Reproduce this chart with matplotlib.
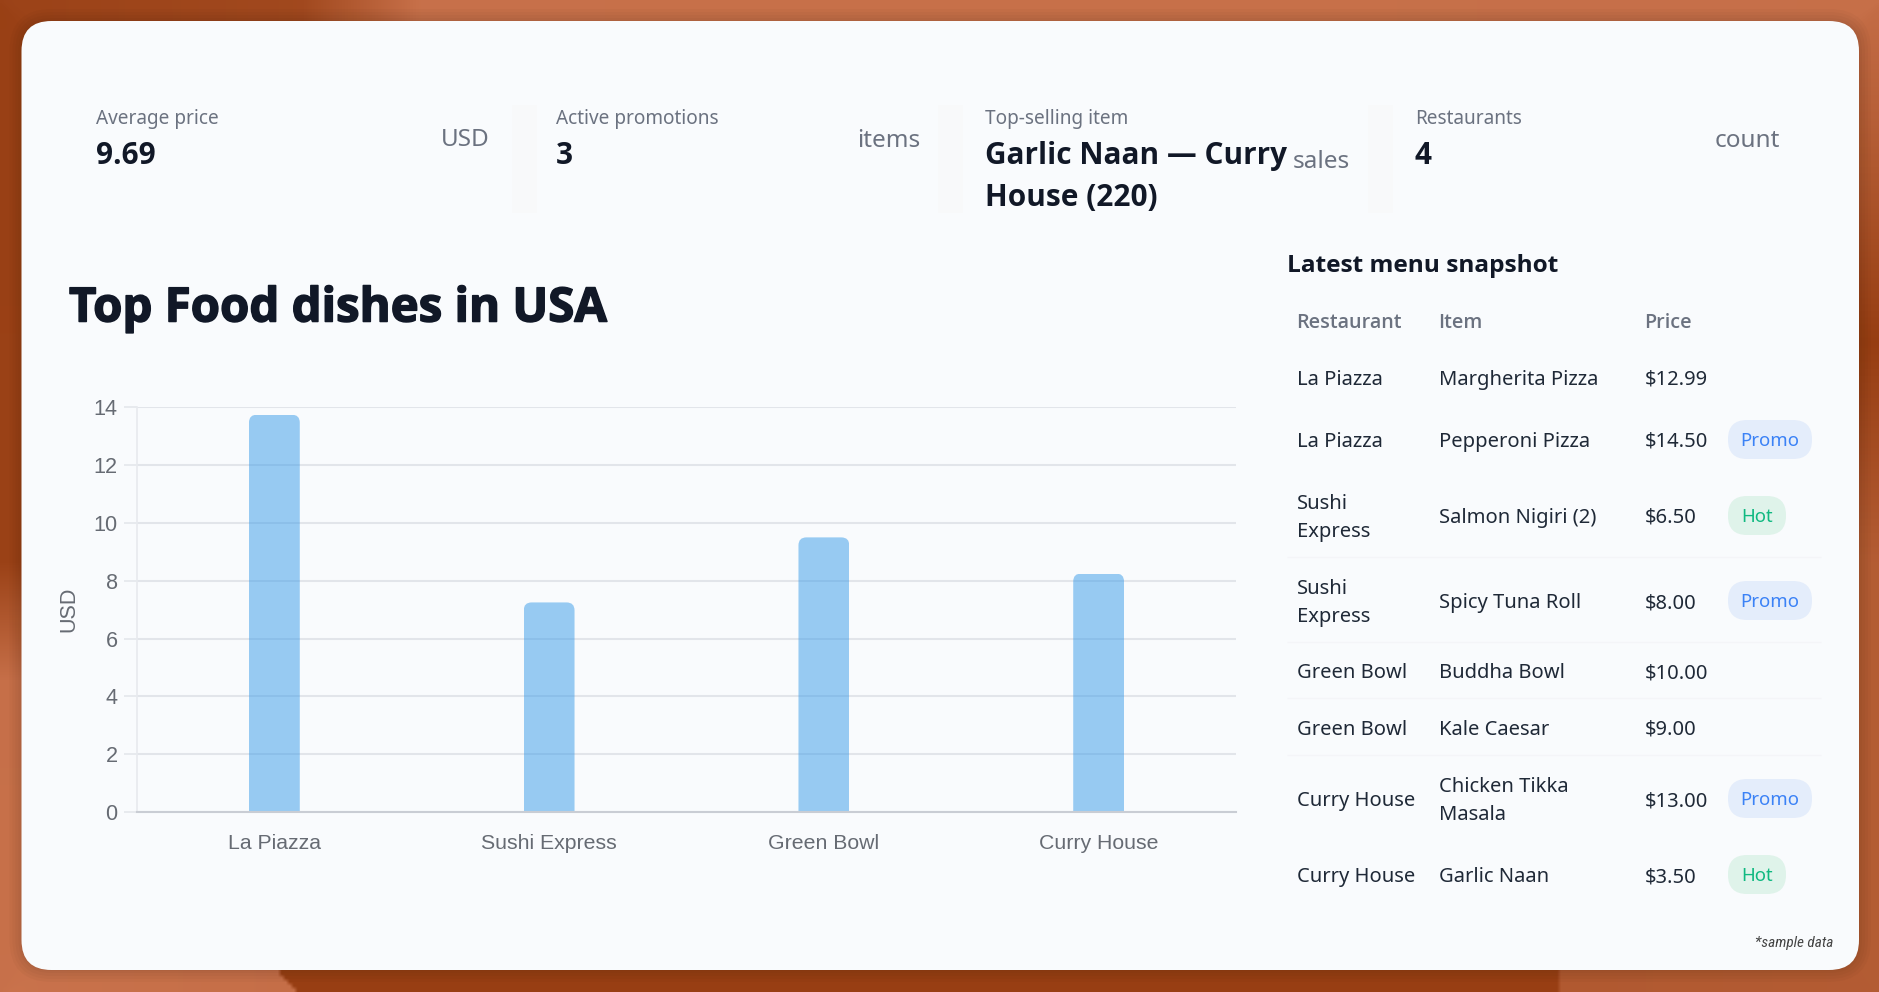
import numpy as np
import matplotlib
matplotlib.use("Agg")
import matplotlib.pyplot as plt
import matplotlib.patheffects as pe
from matplotlib import font_manager as fm
from matplotlib.patches import FancyBboxPatch, PathPatch, Rectangle
from matplotlib.path import Path

W, H = 1879, 992

# ---- data ----
restaurants = ["La Piazza", "Sushi Express", "Green Bowl", "Curry House"]
avg_price = [13.745, 7.25, 9.5, 8.25]
y_ticks = [0, 2, 4, 6, 8, 10, 12, 14]
kpi_labels = ["Average price", "Active promotions", "Top-selling item", "Restaurants"]
kpi_values = ["9.69", "3", "Garlic Naan — Curry\nHouse (220)", "4"]
kpi_units = ["USD", "items", "sales", "count"]
table_headers = ["Restaurant", "Item", "Price"]
table_rest = ["La Piazza", "La Piazza", "Sushi\nExpress", "Sushi\nExpress",
              "Green Bowl", "Green Bowl", "Curry House", "Curry House"]
table_item = ["Margherita Pizza", "Pepperoni Pizza", "Salmon Nigiri (2)", "Spicy Tuna Roll",
              "Buddha Bowl", "Kale Caesar", "Chicken Tikka\nMasala", "Garlic Naan"]
table_price = ["$12.99", "$14.50", "$6.50", "$8.00", "$10.00", "$9.00", "$13.00", "$3.50"]
table_tag = ["", "Promo", "Hot", "Promo", "", "", "Promo", "Hot"]

# ---- layout (pixels) ----
kpi_x = [96, 556, 985, 1415]
unit_right = [490, 920, 1350, 1780]
unit_y = [140, 141, 162, 141]
sep_x = [512, 938, 1368]
row_y = [380, 442, 518, 603, 673, 730, 801, 877]
badge_y = [380, 440, 516, 601, 673, 730, 799, 875]
rule_y = [557, 642, 698, 755]
TEXT = "#1f2937"
GREY = "#6b7280"
INK = "#111827"
BODY = "Noto Sans"
HEAVY = "Open Sans"
SANS = "Liberation Sans"
names = {f.name for f in fm.fontManager.ttflist}
NARROW = next((n for n in ["Liberation Sans Narrow", "Roboto Condensed", "Open Sans Condensed", "Roboto"] if n in names), "DejaVu Sans")

fig = plt.figure(figsize=(W / 100, H / 100), dpi=100)

# ---- background ----
bgax = fig.add_axes([0, 0, 1, 1], zorder=0)
bgax.axis("off")
yy, xx = np.mgrid[0:H:4, 0:W:4]
top = np.interp(xx, [0, 300, 420, W], [0.9, 0.8, 0.08, 0.1])
edge_l = 278 + (yy - 970) * 0.9
bot = np.where(xx < edge_l, np.interp(xx, [0, 285], [0.05, 0.12]),
               np.where(xx < 1560, 0.97, np.interp(xx, [1560, W], [0.5, 0.45])))
lef = np.interp(yy, [0, 560, 680, H], [0.95, 0.92, 0.1, 0.08])
rig = np.interp(yy, [0, 120, 340, 560, H], [0.15, 0.4, 1.0, 0.45, 0.45])
dist = np.stack([yy + 1, H - yy + 1, xx + 1, W - xx + 1]) ** -4.0
d = (np.stack([top, bot, lef, rig]) * dist).sum(0) / dist.sum(0)
light = np.array([0.80, 0.46, 0.31])
dark = np.array([0.59, 0.24, 0.07])
bgax.imshow(light + (dark - light) * d[..., None], extent=[0, W, H, 0], aspect="auto", interpolation="bilinear")

# ---- overlay in pixel coordinates ----
ov = fig.add_axes([0, 0, 1, 1], zorder=1)
ov.set_xlim(0, W)
ov.set_ylim(H, 0)
ov.axis("off")
for g in [12, 9, 6, 3, 1]:
    ov.add_patch(FancyBboxPatch((21.5 - g, 21 - g), 1837.5 + 2 * g, 949 + 2 * g,
                                boxstyle=f"round,pad=0,rounding_size={30 + g}", fc="#3a2010", ec="none", alpha=0.035))
ov.add_patch(FancyBboxPatch((21.5, 21), 1837.5, 949, boxstyle="round,pad=0,rounding_size=30", fc="#f9fbfd", ec="none"))

for x in sep_x:
    ov.add_patch(Rectangle((x, 105), 25, 108, fc="#f8f9fa", ec="none"))

for x, lab, val, ur, u, uy in zip(kpi_x, kpi_labels, kpi_values, unit_right, kpi_units, unit_y):
    ov.text(x, 119, lab, fontsize=13.7, color=GREY, family=BODY, va="center", ha="left")
    ov.text(x, 141, val, fontsize=21.4, color=INK, family=HEAVY, weight="bold", va="top", ha="left", linespacing=1.54)
    ov.text(ur, uy, u, fontsize=17.5, color=GREY, family=BODY, va="center", ha="right")

ov.text(69, 309, "Top Food dishes in USA", fontsize=34.1, color=INK, family=HEAVY, weight="bold", va="center", ha="left",
        path_effects=[pe.withStroke(linewidth=1.1, foreground=INK)])
ov.text(1287, 266, "Latest menu snapshot", fontsize=17.6, color=INK, family=HEAVY, weight="bold", va="center", ha="left")

col_x = [1297, 1439, 1645]
for x, h in zip(col_x, table_headers):
    ov.text(x - 1, 323, h, fontsize=14.2, color=GREY, family=HEAVY, weight="semibold", va="center", ha="left")
for y in rule_y:
    ov.plot([1287, 1821], [y, y], color="#f4f5f8", lw=1.0, solid_capstyle="butt")
for y, by, r, i, p, t in zip(row_y, badge_y, table_rest, table_item, table_price, table_tag):
    for x, s in zip(col_x, (r, i, p)):
        ov.text(x, y, s, fontsize=14.5, color=TEXT, family=BODY, va="center", ha="left", linespacing=1.55)
    if t:
        w = 84 if t == "Promo" else 58
        fc, tc = ("#e4edfb", "#3b82f6") if t == "Promo" else ("#dff3ea", "#10b981")
        ov.add_patch(FancyBboxPatch((1728, by - 20), w, 39, boxstyle="round,pad=0,rounding_size=19", fc=fc, ec="none"))
        ov.text(1728 + w / 2, by + 1, t, fontsize=13.4, color=tc, family=BODY, va="center", ha="center")

ov.text(1833, 943, "*sample data", fontsize=11, color="#444444", family=NARROW, style="italic", va="center", ha="right")

# ---- chart ----
ax_l, ax_r, ax_t, ax_b = 137, 1236, 407.3, 812
ax = fig.add_axes([ax_l / W, 1 - ax_b / H, (ax_r - ax_l) / W, (ax_b - ax_t) / H], zorder=2)
ax.patch.set_alpha(0)
xs = np.arange(len(restaurants))
bw = 0.185
ax.set_xlim(-0.5, 3.5)
ax.set_ylim(0, 14)
ax.set_yticks(y_ticks)
ax.set_xticks(xs, restaurants)
ax.grid(axis="y", color="#e2e5ea", lw=1.5, zorder=1)
ax.set_axisbelow(True)
ax.tick_params(axis="y", length=9.4, width=1.1, color="#e2e5ea", labelsize=15.6, labelcolor="#666b73", pad=4.5)
ax.tick_params(axis="x", length=0, labelsize=15.3, labelcolor="#666b73", pad=16)
for lab in ax.get_xticklabels() + ax.get_yticklabels():
    lab.set_family(SANS)
for s in ["top", "right"]:
    ax.spines[s].set_visible(False)
ax.spines["left"].set_color("#e8eaee")
ax.spines["left"].set_linewidth(1.2)
ax.spines["bottom"].set_color("#c9cdd4")
ax.spines["bottom"].set_linewidth(1.5)
ax.set_ylabel("USD", fontsize=15.6, color="#666b73", family=SANS, labelpad=10)

bars = ax.bar(xs, avg_price, width=bw, color=(55 / 255, 155 / 255, 233 / 255, 0.5), zorder=2)
rx = 8 / ((ax_r - ax_l) / 4)
ry = 8 / ((ax_b - ax_t) / 14)
for b in bars:
    x0, x1, top_v = b.get_x(), b.get_x() + b.get_width(), b.get_height()
    verts = [(x0, 0), (x0, top_v - ry), (x0, top_v), (x0 + rx, top_v), (x1 - rx, top_v),
             (x1, top_v), (x1, top_v - ry), (x1, 0), (x0, 0)]
    codes = [Path.MOVETO, Path.LINETO, Path.CURVE3, Path.CURVE3, Path.LINETO,
             Path.CURVE3, Path.CURVE3, Path.LINETO, Path.CLOSEPOLY]
    b.set_clip_path(PathPatch(Path(verts, codes), transform=ax.transData))

fig.savefig("out.png", dpi=100)
